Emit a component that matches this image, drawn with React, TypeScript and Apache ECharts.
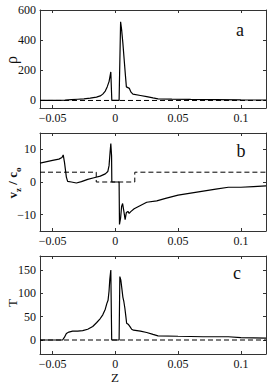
import React, { useEffect, useRef } from "react";
import * as echarts from "echarts";

// x ticks & ranges
const xTicks = [-0.05, 0, 0.05, 0.1];
const rhoTicks = [0, 200, 400, 600];
const vzTicks = [-10, 0, 10];
const tTicks = [0, 50, 100, 150];

// Panel a: density
const zRho = [-0.06, -0.045, -0.04, -0.035, -0.03, -0.025, -0.02, -0.015, -0.012, -0.01, -0.008, -0.0065, -0.005, -0.0036, -0.0028, 0.003, 0.0042, 0.005, 0.006, 0.007, 0.008, 0.0088, 0.01, 0.0112, 0.0125, 0.014, 0.02, 0.025, 0.03, 0.034, 0.045, 0.06, 0.08, 0.1, 0.12];
const rho = [0, 0, 2, 5, 8, 11, 15, 22, 30, 42, 62, 90, 125, 189, 0, 0, 522, 470, 380, 275, 170, 90, 85, 80, 55, 42, 33, 25, 17, 11, 9, 7, 6, 4, 3];
const zRhoRef = [-0.06, 0.12];
const rhoRef = [0, 0];

// Panel b: velocity
const zVz = [-0.06, -0.05, -0.045, -0.0425, -0.0415, -0.0405, -0.039, -0.038, -0.035, -0.031, -0.027, -0.022, -0.017, -0.012, -0.008, -0.006, -0.005, -0.0042, -0.0036, -0.003, -0.0028, 0.003, 0.0033, 0.0042, 0.005, 0.0058, 0.0068, 0.0078, 0.0088, 0.01, 0.011, 0.0125, 0.015, 0.02, 0.025, 0.033, 0.04, 0.05, 0.06, 0.07, 0.08, 0.09, 0.1, 0.11, 0.12];
const vz = [5.8, 6.6, 7.0, 7.5, 8.3, 6, 1.5, 0.2, 0, -0.3, 0.1, 0.8, 1.3, 1.8, 2.5, 3.2, 5, 9, 11.8, 8, 0, 0, -13, -11, -7.5, -6.6, -9, -11.5, -9.3, -9.0, -9.6, -9.0, -8.2, -7.2, -6.2, -5.8, -5.0, -4.0, -3.4, -2.8, -2.2, -1.6, -1.6, -1.4, -1.2];
const zVzRef = [-0.06, -0.0152, -0.0152, 0.0155, 0.0155, 0.12];
const vzRef = [3, 3, 0, 0, 3, 3];

// Panel c: temperature
const zT = [-0.06, -0.042, -0.0405, -0.039, -0.037, -0.034, -0.03, -0.026, -0.022, -0.018, -0.015, -0.012, -0.01, -0.008, -0.0068, -0.0058, -0.005, -0.0044, -0.0036, -0.0029, 0.003, 0.0036, 0.0044, 0.0052, 0.006, 0.0068, 0.0076, 0.0084, 0.009, 0.0105, 0.0118, 0.013, 0.0145, 0.02, 0.025, 0.03, 0.034, 0.05, 0.07, 0.09, 0.1, 0.12];
const T = [0, 0, 6, 14, 17, 19, 19, 20, 23, 29, 37, 46, 54, 66, 78, 85, 105, 130, 150, 0, 0, 136, 128, 110, 92, 82, 68, 50, 36, 33, 28, 23, 21, 19, 16, 12, 9, 8, 7, 7, 5, 4];
const zTRef = [-0.06, 0.12];
const tRef = [0, 0];

const FONT = "'Liberation Serif', 'Times New Roman', 'DejaVu Serif', serif";
const fmt = (v: number) => (v < 0 ? "\u2212" + String(Math.abs(v)) : String(v));
const pairs = (xs: number[], ys: number[]) => xs.map((x, i) => [x, ys[i]]);

export default function App() {
  const ref = useRef<HTMLDivElement>(null);
  useEffect(() => {
    const chart = echarts.init(ref.current!, null, { renderer: "svg" });
    const tops = [10, 133, 256];
    const grids = tops.map((t) => ({ left: 40, right: 5, top: t, height: 98 }));
    const axisLine = { show: true, onZero: false, lineStyle: { color: "#333", width: 1 } };
    const xAxes: any[] = [];
    const yAxes: any[] = [];
    const yCfg = [
      { min: -50, max: 600, ticks: rhoTicks },
      { min: -15, max: 15, ticks: vzTicks },
      { min: -30, max: 180, ticks: tTicks },
    ];
    for (let g = 0; g < 3; g++) {
      for (const pos of ["bottom", "top"]) {
        xAxes.push({
          type: "value",
          gridIndex: g,
          position: pos,
          min: -0.06,
          max: 0.12,
          axisLine,
          splitLine: { show: false },
          axisTick: { show: true, inside: true, length: 3, customValues: xTicks, lineStyle: { color: "#333" } },
          axisLabel: {
            show: pos === "bottom",
            customValues: xTicks,
            formatter: fmt,
            fontFamily: FONT,
            fontSize: 12,
            color: "#111",
            margin: 4,
          },
        });
      }
      for (const pos of ["left", "right"]) {
        yAxes.push({
          type: "value",
          gridIndex: g,
          position: pos,
          min: yCfg[g].min,
          max: yCfg[g].max,
          axisLine,
          splitLine: { show: false },
          axisTick: { show: true, inside: true, length: 3, customValues: yCfg[g].ticks, lineStyle: { color: "#333" } },
          axisLabel: {
            show: pos === "left",
            customValues: yCfg[g].ticks,
            formatter: fmt,
            fontFamily: FONT,
            fontSize: 12,
            color: "#111",
            margin: 4,
          },
        });
      }
    }
    const solid = { color: "#000", width: 1.2 };
    const dashed = { color: "#000", width: 1, type: [5, 3] as any };
    const mk = (g: number, data: number[][], ls: any) => ({
      type: "line",
      xAxisIndex: g * 2,
      yAxisIndex: g * 2,
      data,
      showSymbol: false,
      symbol: "none",
      lineStyle: ls,
      silent: true,
    });
    const series = [
      mk(0, pairs(zRhoRef, rhoRef), dashed),
      mk(0, pairs(zRho, rho), solid),
      mk(1, pairs(zVzRef, vzRef), dashed),
      mk(1, pairs(zVz, vz), solid),
      mk(2, pairs(zTRef, tRef), dashed),
      mk(2, pairs(zT, T), solid),
    ];
    const txt = (x: number, y: number, text: string, size: number, rot = 0, extra: any = {}) => ({
      type: "text",
      x,
      y,
      rotation: rot,
      style: { text, font: `${size}px ${FONT}`, fill: "#111", align: "center", verticalAlign: "middle", ...extra },
    });
    chart.setOption({
      animation: false,
      grid: grids,
      xAxis: xAxes,
      yAxis: yAxes,
      series,
      graphic: [
        txt(240, 30, "a", 18),
        txt(241, 151, "b", 18),
        txt(237, 273, "c", 18),
        txt(11, 60, "\u03c1", 16, Math.PI / 2),
        txt(12, 183, "{v|v}{s|z}{v| / c}{s|o}", 13, Math.PI / 2, {
          rich: {
            v: { font: `bold 13px ${FONT}`, fill: "#111", lineHeight: 14, verticalAlign: "bottom" },
            s: { font: `bold 9px ${FONT}`, fill: "#111", lineHeight: 10, verticalAlign: "bottom", padding: [0, 0, -3, 0] },
          },
        }),
        txt(12, 303, "T", 13, Math.PI / 2),
        txt(115, 377, "Z", 13),
      ],
    });
    return () => chart.dispose();
  }, []);
  return <div ref={ref} style={{ position: "fixed", left: 0, top: 0, width: 271, height: 385, background: "#fff" }} />;
}
